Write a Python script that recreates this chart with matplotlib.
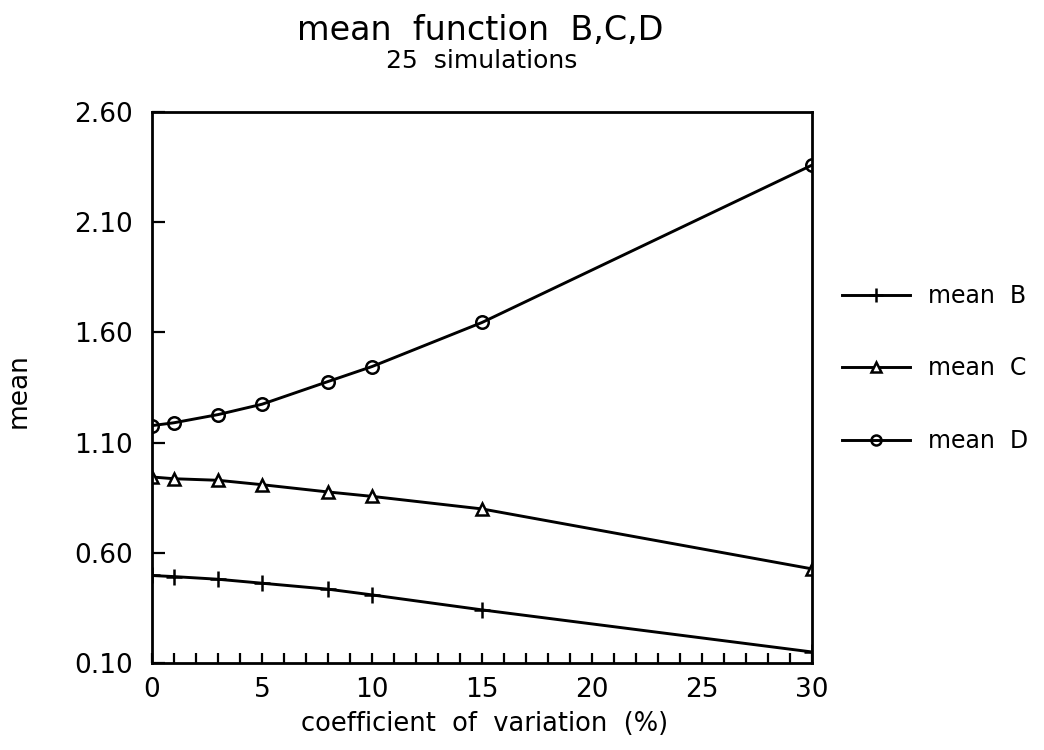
import numpy as np
import matplotlib
matplotlib.use("Agg")
import matplotlib.pyplot as plt
from matplotlib.ticker import MultipleLocator, FixedLocator

# values
cv = [0, 1, 3, 5, 8, 10, 15, 30]
mean_b = [0.497, 0.492, 0.480, 0.462, 0.435, 0.409, 0.341, 0.150]
mean_c = [0.944, 0.936, 0.929, 0.909, 0.876, 0.856, 0.799, 0.527]
mean_d = [1.177, 1.190, 1.227, 1.274, 1.377, 1.445, 1.645, 2.359]
y_ticks = [0.10, 0.60, 1.10, 1.60, 2.10, 2.60]
x_ticks = [0, 5, 10, 15, 20, 25, 30]

plt.rcParams['font.family'] = ['DejaVu Sans']

fig = plt.figure(figsize=(10.44, 7.5), dpi=100)
ax = fig.add_axes([0.1456, 0.116, 0.6322, 0.7347])

lw = 2.1
ax.plot(cv, mean_b, color="black", lw=lw, marker="+", ms=12, mew=1.8, label="mean  B")
ax.plot(cv, mean_c, color="black", lw=lw, marker="^", ms=8.5, mew=1.8, mfc="white", label="mean  C")
ax.plot(cv, mean_d, color="black", lw=lw, marker="o", ms=9, mew=1.8, mfc="none", label="mean  D")

ax.set_xlim(0, 30)
ax.set_ylim(0.10, 2.60)
ax.xaxis.set_major_locator(FixedLocator(x_ticks))
ax.xaxis.set_minor_locator(MultipleLocator(1))
ax.yaxis.set_major_locator(FixedLocator(y_ticks))
ax.set_yticklabels(["%.2f" % v for v in y_ticks])

ax.tick_params(axis="x", which="both", direction="in", length=7, width=1.6,
               labelsize=19, pad=10)
ax.tick_params(axis="y", which="major", direction="in", length=9, width=1.6,
               labelsize=19, pad=14)
for s in ax.spines.values():
    s.set_linewidth(2.0)

ax.set_xlabel("coefficient  of  variation  (%)", fontsize=18.5)
ax.xaxis.set_label_coords(0.5045, -0.11)
ax.xaxis.label.set_va("center")
ax.set_ylabel("mean", fontsize=19)
ax.yaxis.set_label_coords(-0.2015, 0.495)
ax.yaxis.label.set_va("center")

fig.text(0.4598, 1 - 30 / 750, "mean  function  B,C,D", fontsize=24,
         ha="center", va="center")
fig.text(0.4617, 1 - 61 / 750, "25  simulations", fontsize=18,
         ha="center", va="center")

ax.legend(loc="upper left", bbox_to_anchor=(842 / 1044, 1 - 284 / 750),
          bbox_transform=fig.transFigure, frameon=False, fontsize=17,
          handlelength=2.9, handletextpad=0.75, labelspacing=2.05,
          borderpad=0, borderaxespad=0, markerscale=0.8)

fig.savefig("out.png", dpi=100)
